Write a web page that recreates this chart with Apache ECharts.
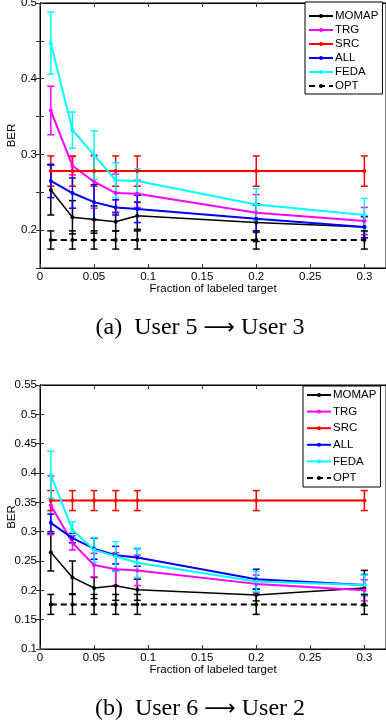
<!DOCTYPE html>
<html>
<head>
<meta charset="utf-8">
<script src="https://cdn.jsdelivr.net/npm/echarts@6/dist/echarts.min.js"></script>
<style>
  html, body { margin: 0; padding: 0; background: #fff; }
  #main { width: 386px; height: 724px; }
</style>
</head>
<body>
<div id="main"></div>
<script>
"use strict";

// ------------------------------
// Data
// ------------------------------
var fractions = [0.01, 0.03, 0.05, 0.07, 0.09, 0.2, 0.3];
var methodNames = ['MOMAP', 'TRG', 'SRC', 'ALL', 'FEDA', 'OPT'];
var methodColors = ['#000000', '#ff00ff', '#ff0000', '#0000ff', '#00ffff', '#000000'];

// (a) User 5 -> User 3
var momapA = [0.253, 0.217, 0.214, 0.211, 0.219, 0.210, 0.204];
var momapErrA = [0.033, 0.022, 0.018, 0.012, 0.018, 0.025, 0.014];
var trgA = [0.358, 0.285, 0.264, 0.249, 0.248, 0.223, 0.212];
var trgErrA = [0.032, 0.012, 0.035, 0.025, 0.018, 0.024, 0.018];
var srcA = [0.278, 0.278, 0.278, 0.278, 0.278, 0.278, 0.278];
var srcErrA = [0.020, 0.020, 0.020, 0.020, 0.020, 0.020, 0.020];
var allA = [0.265, 0.249, 0.237, 0.230, 0.228, 0.215, 0.204];
var allErrA = [0.022, 0.020, 0.023, 0.010, 0.018, 0.018, 0.014];
var fedaA = [0.447, 0.332, 0.299, 0.266, 0.265, 0.234, 0.220];
var fedaErrA = [0.041, 0.024, 0.032, 0.023, 0.016, 0.021, 0.022];
var optA = [0.187, 0.187, 0.187, 0.187, 0.187, 0.187, 0.187];
var optErrA = [0.012, 0.012, 0.012, 0.012, 0.012, 0.012, 0.012];

// (b) User 6 -> User 2
var momapB = [0.265, 0.222, 0.204, 0.208, 0.201, 0.192, 0.204];
var momapErrB = [0.032, 0.028, 0.018, 0.025, 0.018, 0.010, 0.030];
var trgB = [0.345, 0.281, 0.243, 0.236, 0.234, 0.211, 0.200];
var trgErrB = [0.050, 0.012, 0.020, 0.028, 0.026, 0.015, 0.018];
var srcB = [0.353, 0.353, 0.353, 0.353, 0.353, 0.353, 0.353];
var srcErrB = [0.017, 0.017, 0.017, 0.017, 0.017, 0.017, 0.017];
var allB = [0.315, 0.289, 0.271, 0.260, 0.256, 0.219, 0.209];
var allErrB = [0.015, 0.008, 0.018, 0.015, 0.015, 0.017, 0.018];
var fedaB = [0.397, 0.303, 0.269, 0.258, 0.247, 0.215, 0.209];
var fedaErrB = [0.040, 0.014, 0.021, 0.025, 0.025, 0.017, 0.017];
var optB = [0.176, 0.176, 0.176, 0.176, 0.176, 0.176, 0.176];
var optErrB = [0.017, 0.017, 0.017, 0.017, 0.017, 0.017, 0.017];

var valuesA = [momapA, trgA, srcA, allA, fedaA, optA];
var errorsA = [momapErrA, trgErrA, srcErrA, allErrA, fedaErrA, optErrA];
var valuesB = [momapB, trgB, srcB, allB, fedaB, optB];
var errorsB = [momapErrB, trgErrB, srcErrB, allErrB, fedaErrB, optErrB];

var captionA = ['(a)', 'User 5', 'User 3'];
var captionB = ['(b)', 'User 6', 'User 2'];

// ------------------------------
// Helpers
// ------------------------------
var sansFont = 'Liberation Sans';

function fmt(v) {
    return String(+v.toFixed(2));
}

// vertical error bar with caps
function errorBar(params, api) {
    var x = api.value(0);
    var top = api.coord([x, api.value(2)]);
    var bot = api.coord([x, api.value(1)]);
    var half = 3.5;
    var style = { stroke: api.visual('color'), lineWidth: 1.5 };
    return {
        type: 'group',
        children: [
            { type: 'line', shape: { x1: top[0], y1: top[1], x2: bot[0], y2: bot[1] }, style: style },
            { type: 'line', shape: { x1: top[0] - half, y1: top[1], x2: top[0] + half, y2: top[1] }, style: style },
            { type: 'line', shape: { x1: bot[0] - half, y1: bot[1], x2: bot[0] + half, y2: bot[1] }, style: style }
        ]
    };
}

function buildSeries(values, errors, axisIndex) {
    var out = [];
    methodNames.forEach(function (name, m) {
        var color = methodColors[m];
        out.push({
            name: name + ' err',
            type: 'custom',
            xAxisIndex: axisIndex,
            yAxisIndex: axisIndex,
            renderItem: errorBar,
            itemStyle: { color: color },
            encode: { x: 0, y: [1, 2] },
            data: fractions.map(function (x, i) {
                return [x, values[m][i] - errors[m][i], values[m][i] + errors[m][i]];
            }),
            silent: true
        });
        out.push({
            name: name,
            type: 'line',
            xAxisIndex: axisIndex,
            yAxisIndex: axisIndex,
            symbol: 'circle',
            symbolSize: 4,
            itemStyle: { color: color },
            lineStyle: {
                color: color,
                width: name === 'MOMAP' ? 1.5 : 2,
                type: name === 'OPT' ? [6, 4] : 'solid'
            },
            data: fractions.map(function (x, i) {
                return [x, values[m][i]];
            })
        });
    });
    return out;
}

function xAxes(gridIndex) {
    var base = {
        type: 'value',
        gridIndex: gridIndex,
        min: 0,
        max: 0.32,
        interval: 0.05,
        splitLine: { show: false },
        axisLine: { show: true, lineStyle: { color: '#000', width: 1 } },
        axisTick: { show: true, inside: true, length: 4, lineStyle: { color: '#333' } }
    };
    var bottom = Object.assign({}, base, {
        position: 'bottom',
        name: 'Fraction of labeled target',
        nameLocation: 'middle',
        nameGap: 15,
        nameMoveOverlap: false,
        nameTextStyle: { fontFamily: sansFont, fontSize: 11.5, color: '#000' },
        axisLabel: {
            margin: 3,
            fontFamily: sansFont,
            fontSize: 11.5,
            color: '#000',
            showMaxLabel: false,
            formatter: function (v) {
                return Math.round(v * 100) % 5 === 0 ? fmt(v) : '';
            }
        }
    });
    var top = Object.assign({}, base, { position: 'top', axisLabel: { show: false } });
    return [bottom, top];
}

function yAxes(gridIndex, min, max, everyOther) {
    var base = {
        type: 'value',
        gridIndex: gridIndex,
        min: min,
        max: max,
        interval: 0.05,
        splitLine: { show: false },
        axisLine: { show: true, lineStyle: { color: '#000', width: 1 } },
        axisTick: { show: true, inside: true, length: 4, lineStyle: { color: '#333' } }
    };
    var left = Object.assign({}, base, {
        position: 'left',
        name: 'BER',
        nameLocation: 'middle',
        nameGap: 22,
        nameMoveOverlap: false,
        nameTextStyle: { fontFamily: sansFont, fontSize: 11.5, color: '#000' },
        axisLabel: {
            margin: 3,
            fontFamily: sansFont,
            fontSize: 11.5,
            color: '#000',
            formatter: function (v) {
                if (everyOther && Math.round(v * 100) % 10 !== 0) return '';
                return fmt(v);
            }
        }
    });
    var right = Object.assign({}, base, { position: 'right', axisLabel: { show: false } });
    return [left, right];
}

function legendAt(left, top, gap, padding) {
    return {
        data: methodNames,
        orient: 'vertical',
        left: left,
        top: top,
        itemWidth: 24,
        itemHeight: 5,
        itemGap: gap,
        padding: padding,
        backgroundColor: '#fff',
        borderColor: '#000',
        borderWidth: 1,
        borderRadius: 0,
        selectedMode: false,
        textStyle: { fontFamily: sansFont, fontSize: 11.5, color: '#000', padding: [0, 0, 0, -3] }
    };
}

function caption(parts, y) {
    var serif = '"Liberation Serif"';
    return {
        type: 'text',
        x: 200,
        y: y,
        style: {
            text: '{t|' + parts[0] + '  ' + parts[1] + ' }{a|\u27f6}{t| ' + parts[2] + '}',
            align: 'center',
            verticalAlign: 'middle',
            rich: {
                t: { fontFamily: serif, fontSize: 24, fill: '#000' },
                a: { fontFamily: 'DejaVu Sans', fontSize: 22, fill: '#000' }
            }
        }
    };
}

// ------------------------------
// Chart
// ------------------------------
var chart = echarts.init(document.getElementById('main'), null, { renderer: 'canvas' });

var xa = xAxes(0), xb = xAxes(1);
var ya = yAxes(0, 0.15, 0.5, true), yb = yAxes(1, 0.1, 0.55, false);

var option = {
    animation: false,
    backgroundColor: '#fff',
    grid: [
        { left: 40, right: 0, top: 3, height: 265, show: true, borderColor: '#000', borderWidth: 1, outerBoundsMode: 'none', containLabel: false },
        { left: 40, right: 0, top: 385, height: 264, show: true, borderColor: '#000', borderWidth: 1, outerBoundsMode: 'none', containLabel: false }
    ],
    // bottom/top of grid 0, then bottom/top of grid 1
    xAxis: [xa[0], xb[0], xa[1], xb[1]],
    yAxis: [ya[0], yb[0], ya[1], yb[1]],
    legend: [legendAt(305, 2, 2, [8, 4, 2, 3]), legendAt(303, 386, 4.6, [3, 4, 3, 3])],
    graphic: [caption(captionA, 328), caption(captionB, 709)],
    series: buildSeries(valuesA, errorsA, 0).concat(buildSeries(valuesB, errorsB, 1))
};

chart.setOption(option);
</script>
</body>
</html>
